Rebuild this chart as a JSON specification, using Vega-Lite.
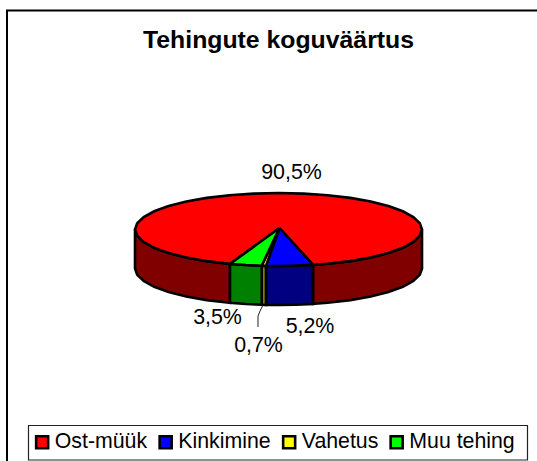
{
"$schema":"https://vega.github.io/schema/vega-lite/v6.json",
"width":537,"height":461,"padding":0,"autosize":{"type":"none"},"background":"white",
"title":{"text":"Tehingute koguväärtus","font":"Liberation Sans","fontSize":24.8,"fontWeight":"bold","color":"black","anchor":"middle","baseline":"alphabetic","offset":-49,"dx":10,"dy":24},
"config":{"view":{"stroke":null}},
"datasets":{
"frame":[{"x":7,"y":461,"i":0},{"x":7,"y":10.5,"i":1},{"x":537,"y":10.5,"i":2}],
"legendbox":[{"x":28.5,"x2":527.5,"y":425.5,"y2":460}],
"leader":[{"x":262.5,"y":306,"i":0},{"x":260.5,"y":310,"i":1},{"x":258,"y":316,"i":2},{"x":258,"y":327,"i":3}],
"labels":[{"text":"90,5%","x":291.5,"y":179},{"text":"5,2%","x":310,"y":333},{"text":"0,7%","x":258.5,"y":352},{"text":"3,5%","x":217.5,"y":324}],
"walls":[
{"part":"Ost-müük","seg":"a","i":0,"x":135,"y":229.5},{"part":"Ost-müük","seg":"a","i":1,"x":137.2,"y":235.8},{"part":"Ost-müük","seg":"a","i":2,"x":143.7,"y":242},{"part":"Ost-müük","seg":"a","i":3,"x":154.2,"y":247.8},{"part":"Ost-müük","seg":"a","i":4,"x":168.6,"y":253},{"part":"Ost-müük","seg":"a","i":5,"x":186.3,"y":257.5},{"part":"Ost-müük","seg":"a","i":6,"x":206.8,"y":261.1},{"part":"Ost-müük","seg":"a","i":7,"x":230,"y":263.9},{"part":"Ost-müük","seg":"a","i":8,"x":230,"y":302.9},{"part":"Ost-müük","seg":"a","i":9,"x":206.8,"y":300.1},{"part":"Ost-müük","seg":"a","i":10,"x":186.3,"y":296.5},{"part":"Ost-müük","seg":"a","i":11,"x":168.6,"y":292},{"part":"Ost-müük","seg":"a","i":12,"x":154.2,"y":286.8},{"part":"Ost-müük","seg":"a","i":13,"x":143.7,"y":281},{"part":"Ost-müük","seg":"a","i":14,"x":137.2,"y":274.8},{"part":"Ost-müük","seg":"a","i":15,"x":135,"y":268.5},{"part":"Ost-müük","seg":"a","i":16,"x":135,"y":229.5},
{"part":"Ost-müük","seg":"b","i":0,"x":313,"y":264.9},{"part":"Ost-müük","seg":"b","i":1,"x":327.6,"y":263.8},{"part":"Ost-müük","seg":"b","i":2,"x":350.3,"y":261.1},{"part":"Ost-müük","seg":"b","i":3,"x":370.7,"y":257.5},{"part":"Ost-müük","seg":"b","i":4,"x":388.4,"y":253},{"part":"Ost-müük","seg":"b","i":5,"x":402.8,"y":247.8},{"part":"Ost-müük","seg":"b","i":6,"x":413.3,"y":242},{"part":"Ost-müük","seg":"b","i":7,"x":419.8,"y":235.8},{"part":"Ost-müük","seg":"b","i":8,"x":422,"y":229.5},{"part":"Ost-müük","seg":"b","i":9,"x":422,"y":268.5},{"part":"Ost-müük","seg":"b","i":10,"x":419.8,"y":274.8},{"part":"Ost-müük","seg":"b","i":11,"x":413.3,"y":281},{"part":"Ost-müük","seg":"b","i":12,"x":402.8,"y":286.8},{"part":"Ost-müük","seg":"b","i":13,"x":388.4,"y":292},{"part":"Ost-müük","seg":"b","i":14,"x":370.7,"y":296.5},{"part":"Ost-müük","seg":"b","i":15,"x":350.3,"y":300.1},{"part":"Ost-müük","seg":"b","i":16,"x":327.6,"y":302.8},{"part":"Ost-müük","seg":"b","i":17,"x":313,"y":303.9},{"part":"Ost-müük","seg":"b","i":18,"x":313,"y":264.9},
{"part":"Kinkimine","seg":"c","i":0,"x":266,"y":265.9},{"part":"Kinkimine","seg":"c","i":1,"x":278.5,"y":266},{"part":"Kinkimine","seg":"c","i":2,"x":296,"y":265.6},{"part":"Kinkimine","seg":"c","i":3,"x":313,"y":264.9},{"part":"Kinkimine","seg":"c","i":4,"x":313,"y":303.9},{"part":"Kinkimine","seg":"c","i":5,"x":296,"y":304.6},{"part":"Kinkimine","seg":"c","i":6,"x":278.5,"y":305},{"part":"Kinkimine","seg":"c","i":7,"x":266,"y":304.9},{"part":"Kinkimine","seg":"c","i":8,"x":266,"y":265.9},
{"part":"Vahetus","seg":"d","i":0,"x":261.7,"y":265.7},{"part":"Vahetus","seg":"d","i":1,"x":266,"y":265.9},{"part":"Vahetus","seg":"d","i":2,"x":266,"y":304.9},{"part":"Vahetus","seg":"d","i":3,"x":261.7,"y":304.7},{"part":"Vahetus","seg":"d","i":4,"x":261.7,"y":265.7},
{"part":"Muu tehing","seg":"e","i":0,"x":230,"y":263.9},{"part":"Muu tehing","seg":"e","i":1,"x":246,"y":265},{"part":"Muu tehing","seg":"e","i":2,"x":261.7,"y":265.7},{"part":"Muu tehing","seg":"e","i":3,"x":261.7,"y":304.7},{"part":"Muu tehing","seg":"e","i":4,"x":246,"y":304},{"part":"Muu tehing","seg":"e","i":5,"x":230,"y":302.9},{"part":"Muu tehing","seg":"e","i":6,"x":230,"y":263.9}
],
"tops":[
{"part":"Ost-müük","i":0,"x":279.5,"y":228},{"part":"Ost-müük","i":1,"x":313,"y":264.9},{"part":"Ost-müük","i":2,"x":327.6,"y":263.8},{"part":"Ost-müük","i":3,"x":350.3,"y":261.1},{"part":"Ost-müük","i":4,"x":370.7,"y":257.5},{"part":"Ost-müük","i":5,"x":388.4,"y":253},{"part":"Ost-müük","i":6,"x":402.8,"y":247.8},{"part":"Ost-müük","i":7,"x":413.3,"y":242},{"part":"Ost-müük","i":8,"x":419.8,"y":235.8},{"part":"Ost-müük","i":9,"x":422,"y":229.5},{"part":"Ost-müük","i":10,"x":419.8,"y":223.2},{"part":"Ost-müük","i":11,"x":413.3,"y":217},{"part":"Ost-müük","i":12,"x":402.8,"y":211.3},{"part":"Ost-müük","i":13,"x":388.4,"y":206},{"part":"Ost-müük","i":14,"x":370.7,"y":201.5},{"part":"Ost-müük","i":15,"x":350.3,"y":197.9},{"part":"Ost-müük","i":16,"x":327.6,"y":195.2},{"part":"Ost-müük","i":17,"x":303.4,"y":193.6},{"part":"Ost-müük","i":18,"x":278.5,"y":193},{"part":"Ost-müük","i":19,"x":253.6,"y":193.6},{"part":"Ost-müük","i":20,"x":229.4,"y":195.2},{"part":"Ost-müük","i":21,"x":206.8,"y":197.9},{"part":"Ost-müük","i":22,"x":186.3,"y":201.5},{"part":"Ost-müük","i":23,"x":168.6,"y":206},{"part":"Ost-müük","i":24,"x":154.2,"y":211.3},{"part":"Ost-müük","i":25,"x":143.7,"y":217},{"part":"Ost-müük","i":26,"x":137.2,"y":223.2},{"part":"Ost-müük","i":27,"x":135,"y":229.5},{"part":"Ost-müük","i":28,"x":137.2,"y":235.8},{"part":"Ost-müük","i":29,"x":143.7,"y":242},{"part":"Ost-müük","i":30,"x":154.2,"y":247.8},{"part":"Ost-müük","i":31,"x":168.6,"y":253},{"part":"Ost-müük","i":32,"x":186.3,"y":257.5},{"part":"Ost-müük","i":33,"x":206.8,"y":261.1},{"part":"Ost-müük","i":34,"x":230,"y":263.9},{"part":"Ost-müük","i":35,"x":279.5,"y":228},
{"part":"Kinkimine","i":0,"x":279.5,"y":228},{"part":"Kinkimine","i":1,"x":266,"y":265.9},{"part":"Kinkimine","i":2,"x":278.5,"y":266},{"part":"Kinkimine","i":3,"x":296,"y":265.6},{"part":"Kinkimine","i":4,"x":313,"y":264.9},{"part":"Kinkimine","i":5,"x":279.5,"y":228},
{"part":"Vahetus","i":0,"x":279.5,"y":228},{"part":"Vahetus","i":1,"x":261.7,"y":265.7},{"part":"Vahetus","i":2,"x":266,"y":265.9},{"part":"Vahetus","i":3,"x":279.5,"y":228},
{"part":"Muu tehing","i":0,"x":279.5,"y":228},{"part":"Muu tehing","i":1,"x":230,"y":263.9},{"part":"Muu tehing","i":2,"x":246,"y":265},{"part":"Muu tehing","i":3,"x":261.7,"y":265.7},{"part":"Muu tehing","i":4,"x":279.5,"y":228}
]},
"encoding":{
"x":{"field":"x","type":"quantitative","scale":{"domain":[0,537],"nice":false,"zero":false},"axis":null},
"y":{"field":"y","type":"quantitative","scale":{"domain":[461,0],"nice":false,"zero":false},"axis":null}
},
"layer":[
{"data":{"name":"frame"},"mark":{"type":"line","stroke":"black","strokeWidth":2},"encoding":{"order":{"field":"i"}}},
{"data":{"name":"legendbox"},"mark":{"type":"rect","fill":"white","stroke":"#222222","strokeWidth":1.2},"encoding":{"x2":{"field":"x2"},"y2":{"field":"y2"}}},
{"data":{"name":"walls"},"mark":{"type":"line","filled":true,"stroke":"black","strokeWidth":2.6,"strokeJoin":"miter"},
 "encoding":{"order":{"field":"i"},"detail":{"field":"seg"},
 "fill":{"field":"part","type":"nominal","legend":null,"scale":{"domain":["Ost-müük","Kinkimine","Vahetus","Muu tehing"],"range":["#800000","#000080","#808000","#008000"]}}}},
{"data":{"name":"tops"},"mark":{"type":"line","filled":true,"stroke":"black","strokeWidth":2.6,"strokeJoin":"miter"},
 "encoding":{"order":{"field":"i"},
 "fill":{"field":"part","type":"nominal","sort":null,"scale":{"domain":["Ost-müük","Kinkimine","Vahetus","Muu tehing"],"range":["#FF0000","#0000FF","#FFFF00","#00FF00"]},
 "legend":{"title":null,"orient":"none","legendX":28.5,"legendY":425.5,"zindex":1,"direction":"horizontal","columns":4,"gridAlign":"each","columnPadding":6.5,"symbolType":"square","symbolSize":144,"symbolOffset":-3,"symbolStrokeColor":"black","symbolStrokeWidth":2.6,"labelFont":"Liberation Sans","labelFontSize":21.3,"labelColor":"black","labelOffset":2,"padding":6,"labelLimit":200}}}},
{"data":{"name":"leader"},"mark":{"type":"line","stroke":"#222222","strokeWidth":1},"encoding":{"order":{"field":"i"}}},
{"data":{"name":"labels"},"mark":{"type":"text","font":"Liberation Sans","fontSize":21.4,"color":"black","baseline":"alphabetic","align":"center"},"encoding":{"text":{"field":"text","type":"nominal"}}}
],
"resolve":{"scale":{"fill":"independent"}}
}
